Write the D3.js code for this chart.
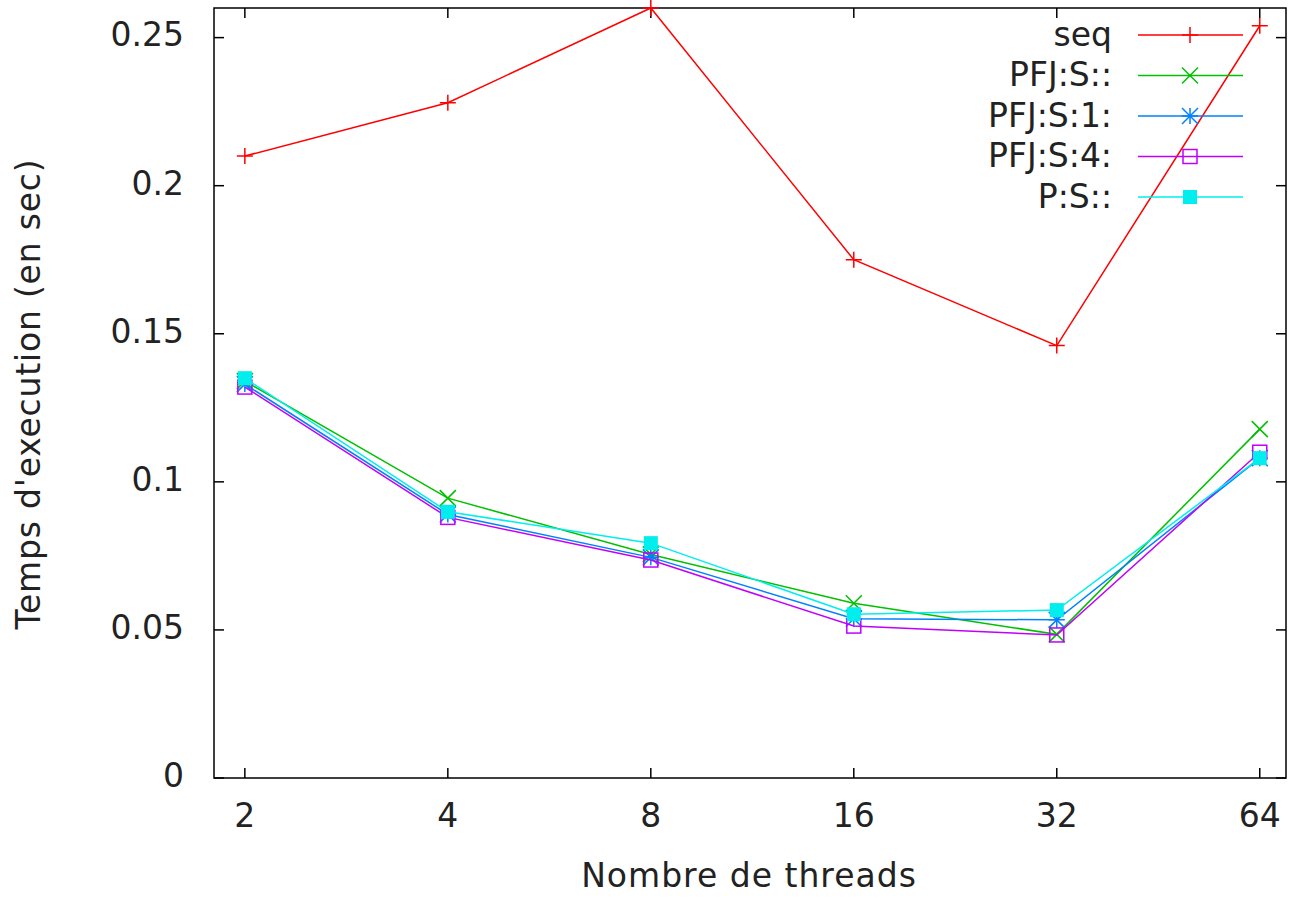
<!DOCTYPE html>
<html>
<head>
<meta charset="utf-8">
<script src="https://cdn.jsdelivr.net/npm/d3@7.9.0/dist/d3.min.js"></script>
<style>
  body { margin: 0; background: #fff; }
  svg text { font-family: "DejaVu Sans", sans-serif; fill: #222; }
</style>
</head>
<body>
<svg id="chart" width="1295" height="898"></svg>
<script>
// data
const threads = [2, 4, 8, 16, 32, 64];
const seq    = [0.210, 0.228, 0.260, 0.175, 0.146, 0.254];
const pfjS   = [0.134, 0.0945, 0.0755, 0.059, 0.0485, 0.1178];
const pfjS1  = [0.133, 0.089, 0.0745, 0.0538, 0.0534, 0.108];
const pfjS4  = [0.132, 0.088, 0.0736, 0.0513, 0.0483, 0.110];
const pS     = [0.135, 0.0899, 0.0793, 0.0553, 0.0567, 0.108];
const yTicks = [0, 0.05, 0.1, 0.15, 0.2, 0.25];

const series = [
  { name: 'seq',       values: seq,   color: '#ff0000', marker: 'plus' },
  { name: 'PFJ:S::',   values: pfjS,  color: '#00c000', marker: 'cross' },
  { name: 'PFJ:S:1:',  values: pfjS1, color: '#0080ff', marker: 'star' },
  { name: 'PFJ:S:4:',  values: pfjS4, color: '#c000ff', marker: 'box' },
  { name: 'P:S::',     values: pS,    color: '#00eeee', marker: 'fbox' },
];

const svg = d3.select('#chart');
const pLeft = 214, pRight = 1286, pTop = 8, pBottom = 778;
const fs = 33;

const x = d3.scaleLog().base(2).domain([1.8, 70]).range([pLeft, pRight]);
const y = d3.scaleLinear().domain([0, 0.26]).range([pBottom, pTop]);

// frame
svg.append('rect')
  .attr('x', pLeft).attr('y', pTop)
  .attr('width', pRight - pLeft).attr('height', pBottom - pTop)
  .attr('fill', 'none').attr('stroke', '#000').attr('stroke-width', 1.5);

// ticks, mirrored on all sides, pointing inward
const tl = 10;
const ticks = svg.append('g').attr('stroke', '#000').attr('stroke-width', 1.5);
yTicks.forEach(v => {
  ticks.append('line').attr('x1', pLeft).attr('x2', pLeft + tl).attr('y1', y(v)).attr('y2', y(v));
  ticks.append('line').attr('x1', pRight).attr('x2', pRight - tl).attr('y1', y(v)).attr('y2', y(v));
});
threads.forEach(t => {
  ticks.append('line').attr('x1', x(t)).attr('x2', x(t)).attr('y1', pBottom).attr('y2', pBottom - tl);
  ticks.append('line').attr('x1', x(t)).attr('x2', x(t)).attr('y1', pTop).attr('y2', pTop + tl);
});

// tick labels
svg.selectAll('.ylab').data(yTicks).join('text')
  .attr('x', 184).attr('y', d => y(d) - 3)
  .attr('dy', '0.36em')
  .attr('text-anchor', 'end')
  .attr('font-size', fs)
  .text(d => d3.format('~g')(d));

svg.selectAll('.xlab').data(threads).join('text')
  .attr('x', d => x(d)).attr('y', 815)
  .attr('dy', '0.36em')
  .attr('text-anchor', 'middle')
  .attr('font-size', fs)
  .text(d => d);

// axis titles
svg.append('text')
  .attr('x', 749).attr('y', 875).attr('dy', '0.36em')
  .attr('text-anchor', 'middle').attr('font-size', fs)
  .attr('letter-spacing', 1)
  .text('Nombre de threads');

svg.append('text')
  .attr('transform', 'translate(28,394) rotate(-90)')
  .attr('dy', '0.36em')
  .attr('text-anchor', 'middle').attr('font-size', fs)
  .attr('letter-spacing', 0.8)
  .text("Temps d'execution (en sec)");

// marker drawing
function drawMarker(g, type, cx, cy, color) {
  const s = 8;
  if (type === 'plus' || type === 'star') {
    g.append('path').attr('d', `M${cx - s},${cy}H${cx + s}M${cx},${cy - s}V${cy + s}`)
      .attr('stroke', color).attr('stroke-width', 1.5).attr('fill', 'none');
  }
  if (type === 'cross' || type === 'star') {
    g.append('path').attr('d', `M${cx - s},${cy - s}L${cx + s},${cy + s}M${cx - s},${cy + s}L${cx + s},${cy - s}`)
      .attr('stroke', color).attr('stroke-width', 1.5).attr('fill', 'none');
  }
  if (type === 'box') {
    g.append('rect').attr('x', cx - 7).attr('y', cy - 7).attr('width', 14).attr('height', 14)
      .attr('stroke', color).attr('stroke-width', 1.5).attr('fill', 'none');
  }
  if (type === 'fbox') {
    g.append('rect').attr('x', cx - 7).attr('y', cy - 7).attr('width', 14).attr('height', 14)
      .attr('fill', color);
  }
}

const line = d3.line().x((d, i) => x(threads[i])).y(d => y(d));

series.forEach(s => {
  const g = svg.append('g');
  g.append('path').attr('d', line(s.values))
    .attr('fill', 'none').attr('stroke', s.color).attr('stroke-width', 1.5);
  s.values.forEach((v, i) => drawMarker(g, s.marker, x(threads[i]), y(v), s.color));
});

// legend
const legend = svg.append('g');
series.forEach((s, i) => {
  const ly = 35 + i * 40.5;
  legend.append('text')
    .attr('x', 1112).attr('y', ly - 1).attr('dy', '0.36em')
    .attr('text-anchor', 'end').attr('font-size', fs)
    .text(s.name);
  legend.append('line')
    .attr('x1', 1138).attr('x2', 1243).attr('y1', ly).attr('y2', ly)
    .attr('stroke', s.color).attr('stroke-width', 1.5);
  drawMarker(legend, s.marker, 1190, ly, s.color);
});
</script>
</body>
</html>
